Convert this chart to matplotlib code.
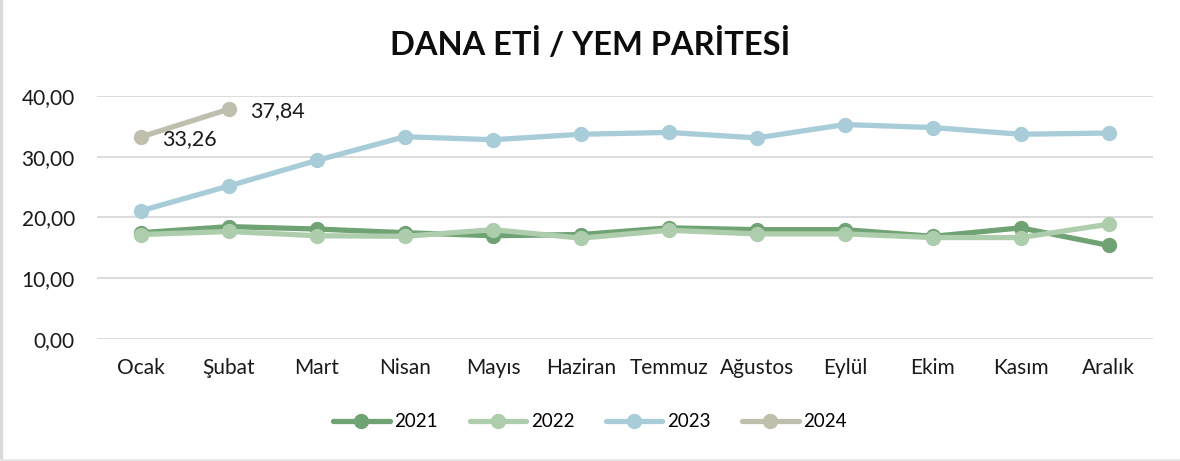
import matplotlib.pyplot as plt
from matplotlib.lines import Line2D
from matplotlib.ticker import FuncFormatter

plt.rcParams['font.family'] = ['Lato', 'DejaVu Sans']

aylar = ['Ocak', 'Şubat', 'Mart', 'Nisan', 'Mayıs', 'Haziran',
         'Temmuz', 'Ağustos', 'Eylül', 'Ekim', 'Kasım', 'Aralık']

y2021 = [17.5, 18.5, 18.1, 17.5, 17.0, 17.2, 18.3, 18.0, 18.0, 16.9, 18.3, 15.4]
y2022 = [17.2, 17.7, 17.0, 16.9, 18.0, 16.6, 17.9, 17.3, 17.3, 16.7, 16.7, 18.9]
y2023 = [21.1, 25.2, 29.4, 33.3, 32.8, 33.7, 34.0, 33.1, 35.3, 34.8, 33.7, 33.9]
y2024 = [33.26, 37.84]

seriler = [('2021', y2021, '#70a373'),
           ('2022', y2022, '#aecdad'),
           ('2023', y2023, '#a8cdd8'),
           ('2024', y2024, '#c0bfae')]

fig = plt.figure(figsize=(11.8, 4.61), dpi=100)
ax = fig.add_axes([0.0822, 0.2646, 0.8948, 0.5272])

x = range(len(aylar))
for ad, deger, renk in seriler:
    ax.plot(range(len(deger)), deger, color=renk, lw=3.8, marker='o',
            markersize=10, solid_capstyle='round', label=ad, clip_on=False)

# 2024 değer etiketleri
for i, v in enumerate(y2024):
    ax.annotate(f'{v:.2f}'.replace('.', ','), (i, v), xytext=(15, -1.5),
                textcoords='offset points', ha='left', va='center',
                fontsize=15.5, color='#1a1a1a')

ax.set_xlim(-0.5, len(aylar) - 0.5)
ax.set_ylim(0, 40)
ax.set_yticks([0, 10, 20, 30, 40])
ax.yaxis.set_major_formatter(FuncFormatter(lambda v, p: f'{v:.2f}'.replace('.', ',')))
ax.set_xticks(list(x))
ax.set_xticklabels(aylar)
ax.tick_params(axis='both', length=0, labelsize=15, colors='#1a1a1a')
ax.tick_params(axis='x', pad=14)
ax.tick_params(axis='y', pad=16)
ax.grid(axis='y', color='#d9d9d9', lw=1.3)
ax.set_axisbelow(True)
for s in ax.spines.values():
    s.set_visible(False)

fig.text(0.5, 0.905, 'DANA ETİ / YEM PARİTESİ', ha='center', va='center',
         fontsize=23.5, fontweight='bold', color='#0d0d0d')

fig.legend(loc='center', bbox_to_anchor=(0.5, 0.085), ncol=4, frameon=False,
           fontsize=13.5, handlelength=3.0, columnspacing=1.7, handletextpad=0.25)

# sol ve alt kenar çizgisi
fig.add_artist(Line2D([0.001, 0.001], [0, 1], transform=fig.transFigure,
                      color='#d9d9d9', lw=3))
fig.add_artist(Line2D([0, 1], [0.002, 0.002], transform=fig.transFigure,
                      color='#e6e6e6', lw=2))

fig.savefig('out.png', dpi=100)
